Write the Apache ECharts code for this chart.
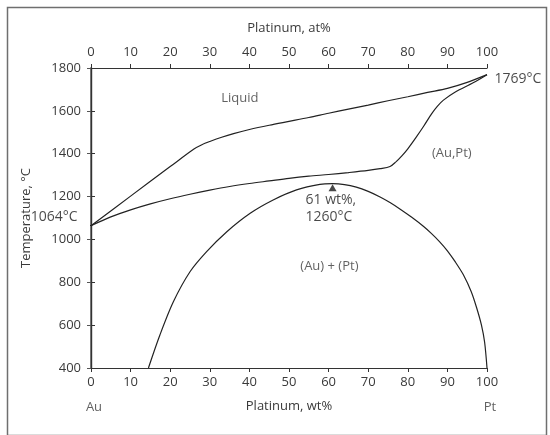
<!DOCTYPE html>
<html><head><meta charset="utf-8">
<script src="https://cdn.jsdelivr.net/npm/echarts@6/dist/echarts.min.js"></script>
<style>html,body{margin:0;padding:0;background:#fff}#c{width:550px;height:435px}</style>
</head><body><div id="c"></div>
<script>
// ---- data (Pt wt% vs temperature, °C) ----
const xTicks = [0, 10, 20, 30, 40, 50, 60, 70, 80, 90, 100];
const tTicks = [400, 600, 800, 1000, 1200, 1400, 1600, 1800];

const liquidusX = [0, 10, 20, 26, 28, 30, 33, 36, 40, 45, 50, 55, 60, 65, 70, 75, 80, 85, 90, 95, 100];
const liquidusT = [1064, 1202, 1340, 1422, 1442, 1457, 1477, 1494, 1513, 1533, 1551, 1569, 1589, 1608, 1627, 1647, 1666, 1686, 1705, 1733, 1769];

const solidusX = [0, 5, 10, 15, 20, 25, 30, 35, 40, 45, 50, 55, 60, 65, 70, 73, 75.5, 77, 78.5, 80, 82, 84, 86, 87.5, 89, 92, 96.5, 100];
const solidusT = [1064, 1105, 1138, 1166, 1190, 1211, 1230, 1247, 1261, 1273, 1285, 1295, 1303, 1312, 1322, 1330, 1340, 1362, 1390, 1423, 1474, 1528, 1586, 1622, 1650, 1688, 1731, 1769];

const gapX = [14.5, 17.4, 20.8, 25, 29.2, 34.3, 40.2, 46, 51.9, 57.8, 61, 64, 67, 70, 73, 75.5, 78, 81, 84, 86, 88, 90, 92, 94, 96, 97.4, 98.6, 99.4, 100];
const gapT = [400, 554, 709, 849, 943, 1036, 1122, 1184, 1231, 1257, 1260, 1256, 1244, 1224, 1198, 1172, 1142, 1103, 1060, 1027, 990, 947, 895, 836, 757, 680, 600, 520, 400];

const peak = [61, 1260];
const auMelt = [0, 1064];
const ptMelt = [100, 1769];
const auLeader = [[-2.8, 1085], [0, 1064]];

const regionLabels = [
  { name: 'Liquid', value: [37.6, 1659] },
  { name: '(Au,Pt)', value: [91.1, 1402] },
  { name: '(Au) + (Pt)', value: [60.2, 873] }
];
const endLabels = [
  { name: 'Au', value: [0, 400] },
  { name: 'Pt', value: [100, 400] }
];

const zip = (xs, ys) => xs.map((x, i) => [x, ys[i]]);

const FONT = '"Open Sans", "Noto Sans", sans-serif';
const TXT = '#3a3a3a';
const DARK = '#1a1a1a';
const LINE = '#222';

const chart = echarts.init(document.getElementById('c'), null, { renderer: 'canvas' });

const curve = (name, data) => ({
  name, type: 'line', data, xAxisIndex: 0, yAxisIndex: 0,
  smooth: 0.3, symbol: 'none', showSymbol: false,
  lineStyle: { color: LINE, width: 1.2 }, z: 3
});

chart.setOption({
  animation: false,
  backgroundColor: '#fff',
  textStyle: { fontFamily: FONT },
  grid: { left: 91, right: 63, top: 68, bottom: 67, containLabel: false },
  graphic: [{
    type: 'rect', left: 5, top: 5, shape: { width: 539, height: 428 },
    style: { fill: 'none', stroke: '#6f6f6f', lineWidth: 1.5 }, z: -1
  }],
  xAxis: [{
    type: 'value', position: 'bottom', min: 0, max: 100, interval: 10,
    name: 'Platinum, wt%', nameLocation: 'middle', nameGap: 32,
    nameTextStyle: { color: TXT, fontSize: 13, fontFamily: FONT },
    axisLine: { lineStyle: { color: '#333', width: 1.2 } },
    axisTick: { length: 4, lineStyle: { color: '#333' } },
    axisLabel: { color: TXT, fontSize: 13, margin: 8, fontFamily: FONT },
    splitLine: { show: false }
  }, {
    type: 'value', position: 'top', min: 0, max: 100, interval: 10,
    name: 'Platinum, at%', nameLocation: 'middle', nameGap: 33,
    nameTextStyle: { color: TXT, fontSize: 13, fontFamily: FONT },
    axisLine: { lineStyle: { color: '#333', width: 1.2 } },
    axisTick: { length: 4, lineStyle: { color: '#333' } },
    axisLabel: { color: TXT, fontSize: 13, margin: 9, fontFamily: FONT },
    splitLine: { show: false }
  }],
  yAxis: [{
    type: 'value', position: 'left', min: 400, max: 1800, interval: 200,
    name: 'Temperature, °C', nameLocation: 'middle', nameGap: 58, nameRotate: 90,
    nameTextStyle: { color: TXT, fontSize: 13, fontFamily: FONT },
    axisLine: { show: true, lineStyle: { color: '#888', width: 2 } },
    axisTick: { show: true, length: 4, lineStyle: { color: '#555' } },
    axisLabel: { color: TXT, fontSize: 13, margin: 10, fontFamily: FONT, formatter: v => String(v) },
    splitLine: { show: false }
  }, {
    type: 'value', position: 'right', min: 400, max: 1800, interval: 200,
    axisLine: { show: true, lineStyle: { color: '#333', width: 1.4 } },
    axisTick: { show: true, length: 4, lineStyle: { color: '#333' } },
    axisLabel: { show: false },
    splitLine: { show: false }
  }],
  series: [
    curve('Liquidus', zip(liquidusX, liquidusT)),
    curve('Solidus', zip(solidusX, solidusT)),
    curve('Miscibility gap', zip(gapX, gapT)),
    {
      name: 'Au leader', type: 'line', data: auLeader, symbol: 'none', clip: false,
      lineStyle: { color: LINE, width: 1 }, z: 3
    },
    {
      name: 'Peak', type: 'scatter', data: [peak], symbol: 'triangle', symbolSize: [8, 7],
      symbolOffset: [0, 4], itemStyle: { color: DARK },
      label: {
        show: true, formatter: '61 wt%,\n1260°C', position: 'bottom', distance: 0,
        align: 'left', offset: [-27, 0], color: DARK, fontSize: 14, lineHeight: 17, fontFamily: FONT
      }, z: 4
    },
    {
      name: 'Au mp', type: 'scatter', data: [auMelt], symbolSize: 1, clip: false,
      itemStyle: { color: 'rgba(0,0,0,0)' },
      label: { show: true, formatter: '1064°C', position: 'left', distance: 13, offset: [0, -9],
        color: DARK, fontSize: 14, fontFamily: FONT }, z: 4
    },
    {
      name: 'Pt mp', type: 'scatter', data: [ptMelt], symbolSize: 1, clip: false,
      itemStyle: { color: 'rgba(0,0,0,0)' },
      label: { show: true, formatter: '1769°C', position: 'right', distance: 7, offset: [0, 4],
        color: DARK, fontSize: 14, fontFamily: FONT }, z: 4
    },
    {
      name: 'Regions', type: 'scatter', data: regionLabels, symbolSize: 1, clip: false,
      itemStyle: { color: 'rgba(0,0,0,0)' },
      label: { show: true, formatter: '{b}', position: 'inside', color: TXT, fontSize: 13, fontFamily: FONT }, z: 4
    },
    {
      name: 'Ends', type: 'scatter', data: endLabels, symbolSize: 1, clip: false,
      itemStyle: { color: 'rgba(0,0,0,0)' },
      label: { show: true, formatter: '{b}', position: 'inside', offset: [3, 39], color: TXT, fontSize: 13, fontFamily: FONT }, z: 4
    }
  ]
});
</script>
</body></html>
